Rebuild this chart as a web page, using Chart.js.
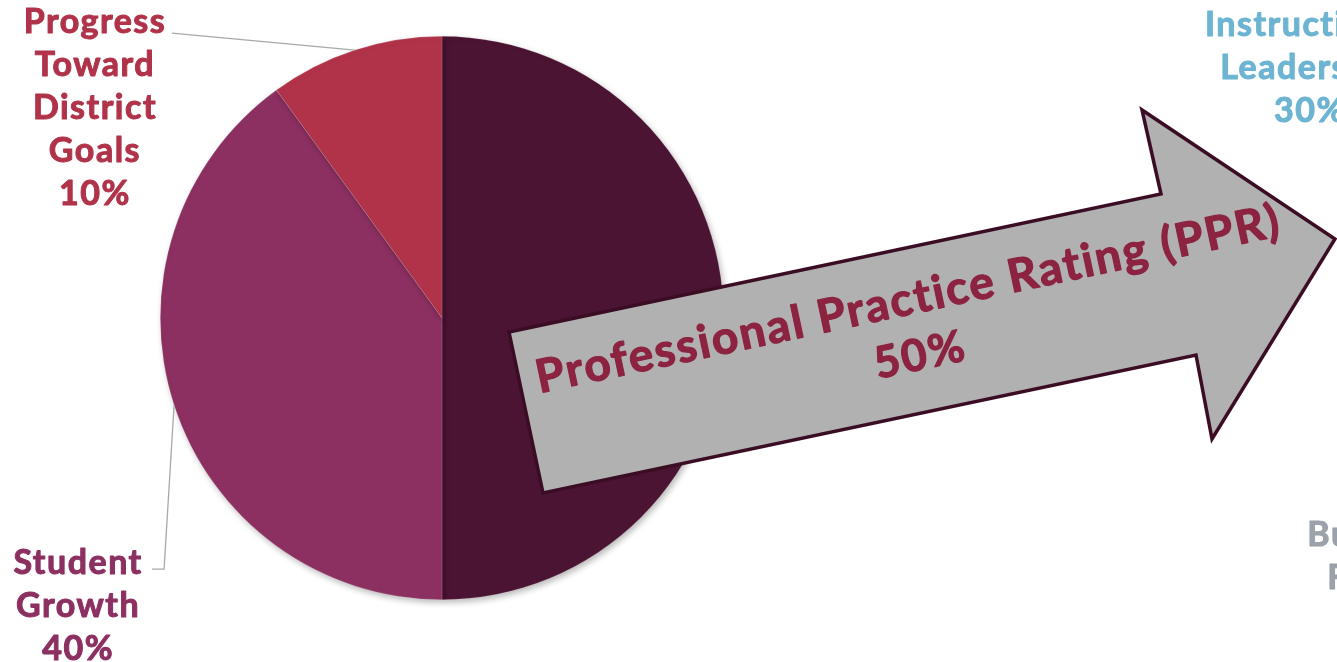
<!DOCTYPE html>
<html>
<head>
<meta charset="utf-8">
<script src="https://cdn.jsdelivr.net/npm/chart.js@4.4.6/dist/chart.umd.min.js"></script>
<style>
  html, body { margin: 0; padding: 0; background: #fff; overflow: hidden; }
  #wrap { width: 1337px; height: 662px; position: relative; }
</style>
</head>
<body>
<div id="wrap"><canvas id="evalPie" width="1337" height="662"></canvas></div>
<script>
const categories = ['Professional Practice Rating (PPR)', 'Student Growth', 'Progress Toward District Goals'];
const weights = [50, 40, 10];
const sliceColors = ['#4c1433', '#8c3061', '#b0334a'];
const labelLines = [
  ['Professional Practice Rating (PPR)', '50%'],
  ['Student', 'Growth', '40%'],
  ['Progress', 'Toward', 'District', 'Goals', '10%']
];
// labels of the neighbouring chart, cut off by the right edge
const sideLabels = [
  { lines: ['Instructional', 'Leadership', '30%'], color: '#6cb4d2' },
  { lines: ['Building', 'Focus'], color: '#9ba2aa' }
];

const FONT = 'bold 34px Lato, "Open Sans", sans-serif';
const LINE_H = 43;

// heavy text: fill plus a thin stroke of the same colour
function heavyText(ctx, t, x, y, w) {
  ctx.lineWidth = w;
  ctx.lineJoin = 'round';
  ctx.strokeStyle = ctx.fillStyle;
  ctx.fillText(t, x, y);
  ctx.strokeText(t, x, y);
}

function drawLines(ctx, lines, cx, y0, color) {
  ctx.fillStyle = color;
  ctx.font = FONT;
  ctx.letterSpacing = '1.5px';
  ctx.textAlign = 'center';
  ctx.textBaseline = 'middle';
  lines.forEach((t, i) => heavyText(ctx, t, cx, y0 + i * LINE_H, 1));
  ctx.letterSpacing = '0px';
}

function anchorOf(arc) {
  const p = arc.getProps(['x', 'y', 'startAngle', 'endAngle', 'outerRadius'], true);
  const mid = (p.startAngle + p.endAngle) / 2;
  return { x: p.x + Math.cos(mid) * p.outerRadius, y: p.y + Math.sin(mid) * p.outerRadius };
}

const shadowPlugin = {
  id: 'pieShadow',
  beforeDatasetsDraw(chart) {
    const ctx = chart.ctx;
    ctx.save();
    ctx.shadowColor = 'rgba(0,0,0,0.28)';
    ctx.shadowBlur = 6;
    ctx.shadowOffsetX = 2;
    ctx.shadowOffsetY = 3;
  },
  afterDatasetsDraw(chart) {
    chart.ctx.restore();
  }
};

const calloutPlugin = {
  id: 'callouts',
  afterDraw(chart) {
    const ctx = chart.ctx;
    const arcs = chart.getDatasetMeta(0).data;

    // leader lines + outside labels
    ctx.save();
    const a1 = anchorOf(arcs[1]);
    ctx.strokeStyle = '#a8a8a8';
    ctx.lineWidth = 1.3;
    ctx.beginPath();
    ctx.moveTo(a1.x, a1.y);
    ctx.lineTo(a1.x - 10, a1.y + 164);
    ctx.lineTo(a1.x - 22, a1.y + 164);
    ctx.stroke();
    drawLines(ctx, labelLines[1], a1.x - 96, a1.y + 158, sliceColors[1]);

    const a2 = anchorOf(arcs[2]);
    ctx.strokeStyle = '#a8a8a8';
    ctx.lineWidth = 1.3;
    ctx.beginPath();
    ctx.moveTo(a2.x, a2.y);
    ctx.lineTo(a2.x - 183, a2.y - 17);
    ctx.stroke();
    drawLines(ctx, labelLines[2], a2.x - 260, a2.y - 28, sliceColors[2]);
    ctx.restore();

    // big arrow carrying the PPR label
    ctx.save();
    ctx.beginPath();
    ctx.moveTo(509, 332);
    ctx.lineTo(1161, 194);
    ctx.lineTo(1142, 110);
    ctx.lineTo(1335, 239);
    ctx.lineTo(1212, 439);
    ctx.lineTo(1196, 355);
    ctx.lineTo(543, 493);
    ctx.closePath();
    ctx.fillStyle = '#b1b1b1';
    ctx.fill();
    ctx.lineJoin = 'miter';
    ctx.lineWidth = 3.5;
    ctx.strokeStyle = '#3b0d24';
    ctx.stroke();

    ctx.translate(914, 326);
    ctx.rotate(-12 * Math.PI / 180);
    ctx.fillStyle = '#8c2341';
    ctx.textAlign = 'center';
    ctx.textBaseline = 'middle';
    ctx.letterSpacing = '2px';
    ctx.font = 'bold 46px Lato, "Open Sans", sans-serif';
    heavyText(ctx, labelLines[0][0], 0, -27, 1.2);
    ctx.font = 'bold 44px Lato, "Open Sans", sans-serif';
    heavyText(ctx, labelLines[0][1], 0, 30, 1.2);
    ctx.restore();

    // clipped labels on the right
    ctx.save();
    drawLines(ctx, sideLabels[0].lines, 1310, 25, sideLabels[0].color);
    drawLines(ctx, sideLabels[1].lines, 1375, 535, sideLabels[1].color);
    ctx.restore();
  }
};

new Chart(document.getElementById('evalPie'), {
  type: 'pie',
  data: {
    labels: categories,
    datasets: [{
      data: weights,
      backgroundColor: sliceColors,
      borderColor: 'rgba(255,255,255,0.25)',
      borderWidth: 0.6
    }]
  },
  options: {
    responsive: false,
    animation: false,
    layout: { padding: { left: 160, right: 613, top: 36, bottom: 62 } },
    plugins: {
      legend: { display: false },
      tooltip: { enabled: false }
    }
  },
  plugins: [shadowPlugin, calloutPlugin]
});
</script>
</body>
</html>
